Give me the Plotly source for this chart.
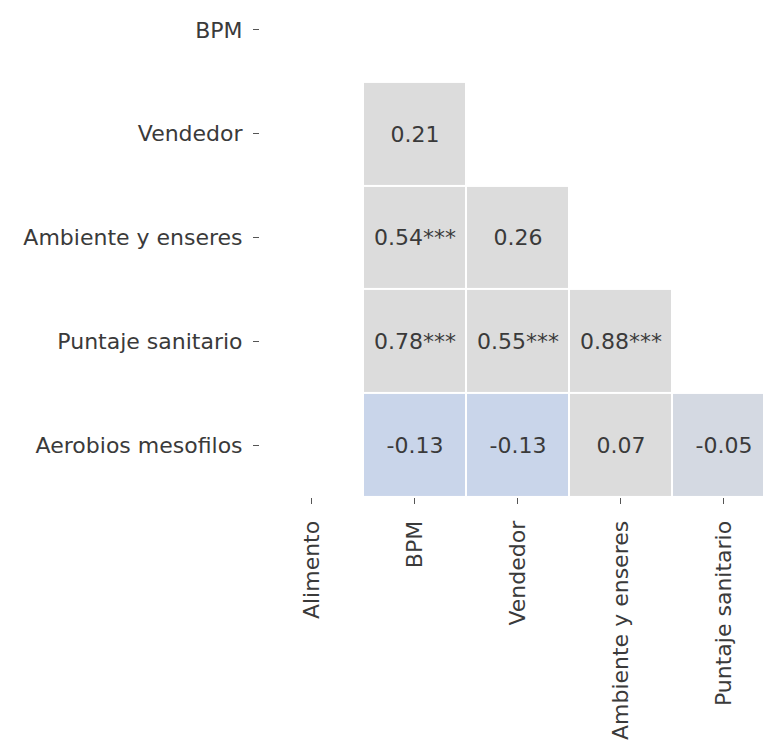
import numpy as np
import plotly.graph_objects as go

# variables (rows / columns of the masked correlation matrix)
filas = ['BPM', 'Vendedor', 'Ambiente y enseres', 'Puntaje sanitario', 'Aerobios mesofilos']
columnas = ['Alimento', 'BPM', 'Vendedor', 'Ambiente y enseres', 'Puntaje sanitario']

nan = np.nan
r_vendedor = [nan, 0.21, nan, nan, nan]
r_ambiente = [nan, 0.54, 0.26, nan, nan]
r_puntaje = [nan, 0.78, 0.55, 0.88, nan]
r_aerobios = [nan, -0.13, -0.13, 0.07, -0.05]
r_bpm = [nan, nan, nan, nan, nan]

sig_vendedor = ['', '', '', '', '']
sig_ambiente = ['', '***', '', '', '']
sig_puntaje = ['', '***', '***', '***', '']
sig_aerobios = ['', '', '', '', '']
sig_bpm = ['', '', '', '', '']

z = [r_bpm, r_vendedor, r_ambiente, r_puntaje, r_aerobios]
sig = [sig_bpm, sig_vendedor, sig_ambiente, sig_puntaje, sig_aerobios]

etiquetas = []
for fila_z, fila_s in zip(z, sig):
	etiquetas.append(['' if np.isnan(v) else '%.2f%s' % (v, s) for v, s in zip(fila_z, fila_s)])

zmin, zmax = -0.13, 0.88
cero = (0 - zmin) / (zmax - zmin)
escala = [[0, '#c9d5ea'], [(-0.05 - zmin) / (zmax - zmin), '#d4d9e2'], [cero, '#dcdcdc'], [1, '#dcdcdc']]

fig = go.Figure(go.Heatmap(
	z=z, x=columnas, y=filas,
	text=etiquetas, texttemplate='%{text}',
	textfont=dict(family='DejaVu Sans', size=22, color='#3a3a3a'),
	colorscale=escala, zmin=zmin, zmax=zmax,
	showscale=False, xgap=2, ygap=2, hoverongaps=False))

# the page body adds 8px around the figure
fig.update_layout(
	width=763, height=734,
	margin=dict(l=252, r=0, t=0, b=245),
	paper_bgcolor='white', plot_bgcolor='white',
	font=dict(family='DejaVu Sans', size=22, color='#3a3a3a'),
	xaxis=dict(range=[-0.5, 4.46], tickangle=-90, ticks='outside', ticklen=6,
		tickcolor='#555555', showgrid=False, zeroline=False, showline=False,
		automargin=False, ticklabelstandoff=8),
	yaxis=dict(range=[4.5, -0.21], ticks='outside', ticklen=6,
		tickcolor='#555555', showgrid=False, zeroline=False, showline=False,
		automargin=False, ticklabelstandoff=6),
)

fig.write_html("out.html")
